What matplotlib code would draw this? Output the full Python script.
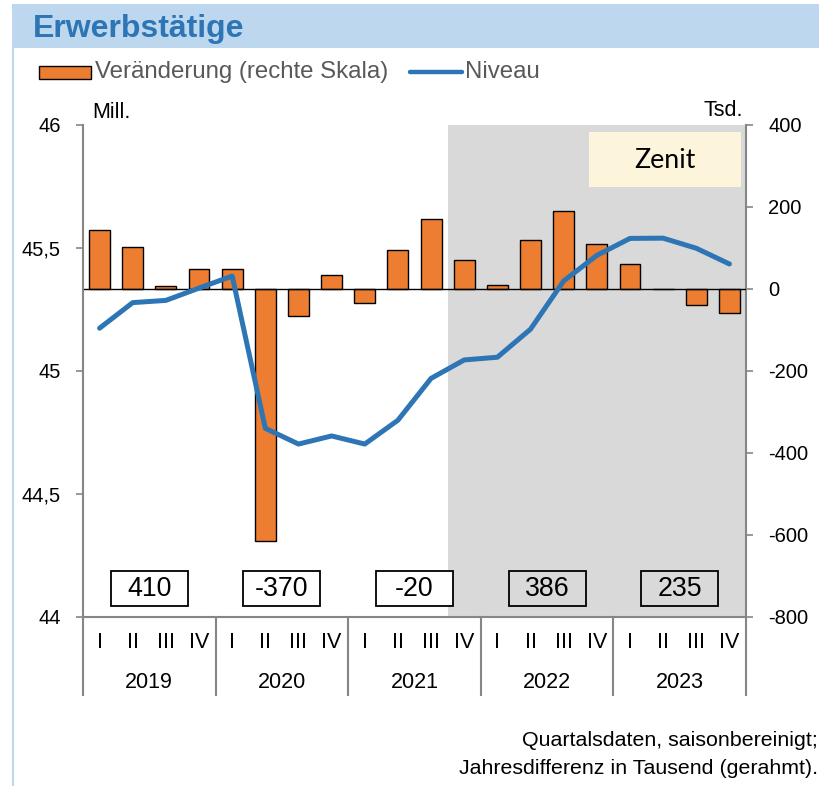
import numpy as np
import matplotlib
matplotlib.use('Agg')
import matplotlib.pyplot as plt
from matplotlib.patches import Rectangle
from matplotlib.lines import Line2D
import matplotlib.transforms as mtransforms

plt.rcParams['font.family'] = ['Liberation Sans', 'DejaVu Sans']

# data
years = ['2019', '2020', '2021', '2022', '2023']
quarters = ['I', 'II', 'III', 'IV']
change = [145, 102, 8, 49, 49, -615, -66, 34, -34, 96, 171, 71,
          9, 120, 191, 110, 60, 1, -39, -59]
level = [45.174, 45.278, 45.287, 45.337, 45.386, 44.767, 44.703, 44.736,
         44.703, 44.80, 44.97, 45.045, 45.056, 45.17, 45.366, 45.47,
         45.539, 45.54, 45.499, 45.435]
annual = ['410', '-370', '-20', '386', '235']
left_ticks = [44, 44.5, 45, 45.5, 46]
left_labels = ['44', '44,5', '45', '45,5', '46']
right_ticks = [-800, -600, -400, -200, 0, 200, 400]

W, H = 819, 786
fig = plt.figure(figsize=(W / 100, H / 100), dpi=100)

def fx(px):
    return px / W

def fy(py):
    return 1 - py / H

orange = '#ED7D31'
blue = '#2E75B6'
gray = '#868686'
lightblue = '#BDD7EE'

# title band and frame
fig.patches.append(Rectangle((fx(12), fy(48)), fx(819) - fx(12), fy(4) - fy(48),
                             transform=fig.transFigure, facecolor=lightblue,
                             edgecolor='none', zorder=0))
fig.add_artist(Line2D([fx(13), fx(13)], [fy(48), 0], transform=fig.transFigure,
                      color=lightblue, lw=1.5))
fig.text(fx(33), fy(29), 'Erwerbstätige', fontsize=23, fontweight='bold',
         color=blue, va='center', ha='left')

# legend
fig.patches.append(Rectangle((fx(39), fy(79)), fx(91) - fx(39), fy(66) - fy(79),
                             transform=fig.transFigure, facecolor=orange,
                             edgecolor='black', lw=1))
fig.text(fx(95), fy(72), 'Veränderung (rechte Skala)', fontsize=17.3,
         color='#595959', va='center', ha='left')
fig.add_artist(Line2D([fx(410), fx(462)], [fy(72), fy(72)], transform=fig.transFigure,
                      color=blue, lw=3.2, solid_capstyle='round'))
fig.text(fx(465), fy(72), 'Niveau', fontsize=17.3, color='#595959',
         va='center', ha='left')

# axes
x0, x1, ytop, ybot = 83, 746, 125, 617
ax = fig.add_axes([fx(x0), fy(ybot), fx(x1) - fx(x0), fy(ytop) - fy(ybot)])
n = len(change)
xs = np.arange(n) + 0.5
ax.set_xlim(0, n)
ax.set_ylim(-800, 400)
ax.axvspan(11, n, color='#D9D9D9', zorder=0, lw=0)
ax.bar(xs, change, width=0.63, color=orange, edgecolor='black', lw=1, zorder=2)
ax.axhline(0, color='black', lw=1, zorder=3)
ax.set_xticks([])

ax2 = ax.twinx()
ax2.set_ylim(44, 46)
ax2.plot(xs, level, color=blue, lw=3.6, solid_joinstyle='round',
         solid_capstyle='round', zorder=5)

ax.yaxis.tick_right()
ax.set_yticks(right_ticks)
ax.set_yticklabels([str(t) for t in right_ticks])
ax.tick_params(axis='y', direction='out', length=5, width=1.2, color=gray,
               labelsize=14.5, pad=11)
for s in ['top', 'left']:
    ax.spines[s].set_visible(False)
for s in ['right', 'bottom']:
    ax.spines[s].set_color(gray)
    ax.spines[s].set_linewidth(1.5)

ax2.yaxis.tick_left()
ax2.set_yticks(left_ticks)
ax2.set_yticklabels(left_labels)
ax2.tick_params(axis='y', direction='out', length=5, width=1.2, color=gray,
                labelsize=14.5, pad=11)
for s in ['top', 'right', 'bottom']:
    ax2.spines[s].set_visible(False)
ax2.spines['left'].set_color(gray)
ax2.spines['left'].set_linewidth(1.5)

fig.text(fx(92), fy(113), 'Mill.', fontsize=15.5, va='center', ha='left')
fig.text(fx(743), fy(111), 'Tsd.', fontsize=15.5, va='center', ha='right')

# annual boxes
trans = mtransforms.blended_transform_factory(ax.transData, ax.transAxes)
bw = 77 / ((x1 - x0) / n)
by0 = (ybot - 606) / (ybot - ytop)
bh = 35 / (ybot - ytop)
for i, lab in enumerate(annual):
    cx = 4 * i + 2
    fc = 'white' if i < 3 else 'none'
    ax.add_patch(Rectangle((cx - bw / 2, by0), bw, bh, transform=trans,
                           facecolor=fc, edgecolor='black', lw=1.3, zorder=6))
    ax.text(cx, by0 + bh / 2, lab, transform=trans, fontsize=19.3,
            ha='center', va='center', zorder=7)

# Zenit box
fig.patches.append(Rectangle((fx(589), fy(187)), fx(741) - fx(589), fy(132) - fy(187),
                             transform=fig.transFigure, facecolor='#FCF5DC',
                             edgecolor='none', zorder=10))
fig.text(fx(665), fy(160), 'Zenit', fontsize=19.3, family=['Lato', 'DejaVu Sans'],
         ha='center', va='center', zorder=11)

# category axis
tx = mtransforms.blended_transform_factory(ax.transData, fig.transFigure)
for i in range(n):
    ax.text(xs[i], fy(642), quarters[i % 4], transform=tx, fontsize=15.5,
            ha='center', va='center')
for j, y in enumerate(years):
    ax.text(4 * j + 2, fy(683), y, transform=tx, fontsize=15.5,
            ha='center', va='center')
for b in range(0, n + 1, 4):
    ax.add_artist(Line2D([b, b], [fy(ybot), fy(695)], transform=tx,
                         color=gray, lw=1.5, clip_on=False))

# footnote
fig.text(fx(818), fy(740), 'Quartalsdaten, saisonbereinigt;', fontsize=15.4,
         ha='right', va='center')
fig.text(fx(818), fy(768), 'Jahresdifferenz in Tausend (gerahmt).', fontsize=15.4,
         ha='right', va='center')

fig.savefig('out.png', dpi=100)
